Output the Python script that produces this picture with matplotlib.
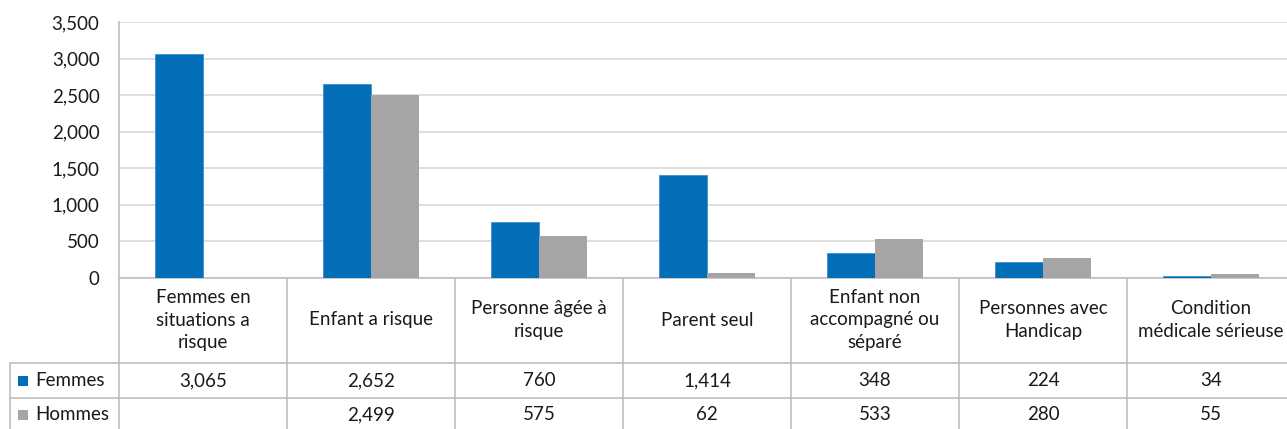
import numpy as np
import matplotlib
matplotlib.use("Agg")
import matplotlib.pyplot as plt
from matplotlib.transforms import blended_transform_factory
from matplotlib.lines import Line2D
from matplotlib.patches import Rectangle

categories = ["Femmes en\nsituations a\nrisque", "Enfant a risque", "Personne âgée à\nrisque",
              "Parent seul", "Enfant non\naccompagné ou\nséparé", "Personnes avec\nHandicap",
              "Condition\nmédicale sérieuse"]
series_names = ["Femmes", "Hommes"]
femmes = [3065, 2652, 760, 1414, 348, 224, 34]
hommes = [np.nan, 2499, 575, 62, 533, 280, 55]
yticks = [0, 500, 1000, 1500, 2000, 2500, 3000, 3500]

BLUE = "#036EB8"
GRAY = "#A5A5A5"
GRID = "#D9D9D9"
LINE = "#BFBFBF"
TXT = "#1A1A1A"

plt.rcParams['font.family'] = ['Lato', 'DejaVu Sans']
FS = 13.5

W, H = 1287, 429
fig = plt.figure(figsize=(W / 100, H / 100), dpi=100)

def fx(px):
    return px / W

def fy(py):
    return 1 - py / H

ax_left, ax_right, ax_top, ax_bot = 119, 1295, 22, 278
ax = fig.add_axes([fx(ax_left), fy(ax_bot), fx(ax_right - ax_left), (ax_bot - ax_top) / H])

n = len(categories)
x = np.arange(n)
bw = 0.286
ax.bar(x - bw, femmes, width=bw, align='edge', color=BLUE, edgecolor="#3C8FD0", linewidth=0.6, zorder=3)
ax.bar(x, hommes, width=bw, align='edge', color=GRAY, zorder=3)

ax.set_xlim(-0.5, n - 0.5)
ax.set_ylim(0, 3500)
ax.set_yticks(yticks)
ax.set_yticklabels([f"{v:,}" for v in yticks], fontsize=FS, color=TXT)
ax.tick_params(axis='y', length=0, pad=14)
ax.set_xticks([])
ax.grid(axis='y', color=GRID, linewidth=1.2, zorder=0)
ax.set_axisbelow(True)
for s in ['top', 'right']:
    ax.spines[s].set_visible(False)
ax.spines['left'].set_color(LINE)
ax.spines['left'].set_linewidth(1.2)
ax.spines['bottom'].set_color(LINE)
ax.spines['bottom'].set_linewidth(1.2)

# data table below
tr = blended_transform_factory(ax.transData, fig.transFigure)
row_lines = [363, 398]
row_centers = [381, 415]
header_center = 320
tbl_bottom = 440

for k in range(1, n + 1):
    fig.add_artist(Line2D([k - 0.5, k - 0.5], [fy(ax_bot), fy(tbl_bottom)], transform=tr,
                          color=LINE, linewidth=1.2))
fig.add_artist(Line2D([fx(ax_left)] * 2, [fy(ax_bot), fy(tbl_bottom)], transform=fig.transFigure,
                      color=LINE, linewidth=1.2))
fig.add_artist(Line2D([fx(10)] * 2, [fy(row_lines[0]), fy(tbl_bottom)], transform=fig.transFigure,
                      color=LINE, linewidth=1.2))
for ry in row_lines:
    fig.add_artist(Line2D([fx(10), fx(ax_right)], [fy(ry)] * 2, transform=fig.transFigure,
                          color=LINE, linewidth=1.2))

for i, c in enumerate(categories):
    fig.text(i, fy(header_center), c, transform=tr, ha='center', va='center',
             fontsize=FS, color=TXT, linespacing=1.42)

for r, (vals, col, name) in enumerate(zip([femmes, hommes], [BLUE, GRAY], series_names)):
    cy = fy(row_centers[r])
    fig.add_artist(Rectangle((fx(18), cy - 5 / H), 10 / W, 10 / H, transform=fig.transFigure,
                             facecolor=col, edgecolor='none'))
    fig.text(fx(35), cy, name, ha='left', va='center', fontsize=FS, color=TXT)
    for i, v in enumerate(vals):
        if not np.isnan(v):
            fig.text(i, cy, f"{int(v):,}", transform=tr, ha='center', va='center',
                     fontsize=FS, color=TXT)

fig.savefig("out.png", dpi=100)
